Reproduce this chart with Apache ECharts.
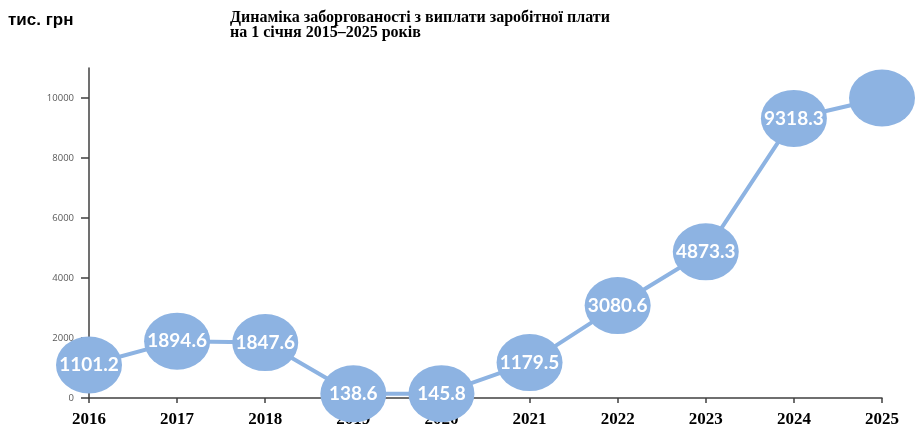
<!DOCTYPE html>
<html>
<head>
<meta charset="utf-8">
<script src="https://cdn.jsdelivr.net/npm/echarts@6/dist/echarts.min.js"></script>
<style>
  html, body { margin: 0; padding: 0; background: #fff; }
  #chart { width: 920px; height: 425px; }
</style>
</head>
<body>
<div id="chart"></div>
<script>
// роки
var years = ['2016', '2017', '2018', '2019', '2020', '2021', '2022', '2023', '2024', '2025'];
// заборгованість, тис. грн (2025 - без підпису на малюнку)
var debt = [1101.2, 1894.6, 1847.6, 138.6, 145.8, 1179.5, 3080.6, 4873.3, 9318.3, 10000];
var showLabel = [true, true, true, true, true, true, true, true, true, false];
var yTicks = [0, 2000, 4000, 6000, 8000, 10000];

var chart = echarts.init(document.getElementById('chart'));

var seriesData = debt.map(function (v, i) {
    return { value: v, label: { show: showLabel[i] } };
});

var option = {
    animation: false,
    title: [
        {
            text: 'тис. грн',
            left: 3,
            top: 7,
            textStyle: { fontFamily: 'Liberation Sans', fontWeight: 'bold', fontSize: 17, color: '#000' }
        },
        {
            text: 'Динаміка заборгованості з виплати заробітної плати\nна 1 січня 2015–2025 років',
            left: 225,
            top: 5,
            textStyle: { fontFamily: 'Liberation Serif', fontWeight: 'bold', fontSize: 16, color: '#000', lineHeight: 15 }
        }
    ],
    grid: { left: 89, right: 38, top: 68, bottom: 27, outerBoundsMode: 'none' },
    xAxis: {
        type: 'category',
        boundaryGap: false,
        data: years,
        z: 0,
        axisLine: { lineStyle: { color: '#404040', width: 1.5 } },
        axisTick: { show: true, length: 5, lineStyle: { color: '#404040', width: 1.5 } },
        axisLabel: {
            margin: 13,
            fontFamily: 'Liberation Serif',
            fontWeight: 'bold',
            fontSize: 17,
            color: '#000'
        }
    },
    yAxis: {
        type: 'value',
        min: 0,
        max: 11000,
        interval: 1000,
        splitLine: { show: false },
        axisLine: { show: true, lineStyle: { color: '#404040', width: 1.5 } },
        axisTick: { show: true, length: 8, customValues: yTicks, lineStyle: { color: '#404040', width: 1.5 } },
        axisLabel: {
            customValues: yTicks,
            margin: 15,
            fontFamily: 'Open Sans',
            fontSize: 9.5,
            color: '#595959',
            formatter: function (v) { return String(v); }
        }
    },
    series: [
        {
            type: 'line',
            data: seriesData,
            symbol: 'circle',
            symbolSize: [66, 57],
            lineStyle: { color: '#8DB3E2', width: 4 },
            itemStyle: { color: '#8DB3E2' },
            label: {
                show: true,
                position: 'inside',
                color: '#fff',
                fontFamily: 'Lato',
                fontWeight: 'bold',
                fontSize: 19
            }
        }
    ]
};

chart.setOption(option);
</script>
</body>
</html>
